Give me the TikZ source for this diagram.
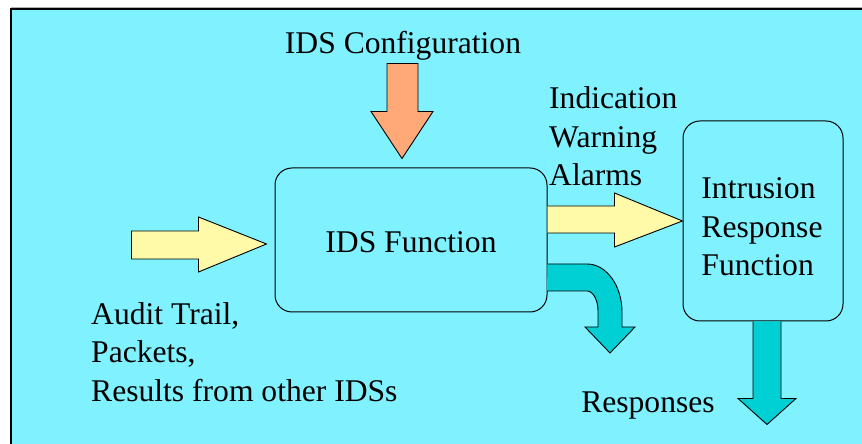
\documentclass[tikz,border=0pt]{standalone}
\usepackage{fontspec}
\setmainfont{Liberation Serif}
\usetikzlibrary{calc}
\definecolor{slidebg}{RGB}{128,242,255}
\definecolor{inyellow}{RGB}{255,250,168}
\definecolor{cfgorange}{RGB}{255,168,120}
\definecolor{outteal}{RGB}{0,208,212}
\tikzset{
  lbl/.style={font=\fontsize{31.6}{38.5}\selectfont, inner sep=0pt, align=left},
  fnbox/.style={draw, line width=1pt, rounded corners=17pt, fill=slidebg},
  blockarrow/.style={draw, line width=0.9pt, line join=miter}
}

\begin{document}
\begin{tikzpicture}[x=1pt, y=1pt]
  \useasboundingbox (0,0) rectangle (862,444);
  \fill[white] (0,0) rectangle (862,444);
  \draw[gray!60, line width=1pt] (11,436.5) -- (864,436.5);
  \fill[slidebg] (11,0) rectangle (862,435);
  \draw[line width=1.3pt] (11,-2) -- (11,435) -- (864,435);

  % the two function boxes
  \node[fnbox, minimum width=272pt, minimum height=144pt] (idsfn) at (411,204) {};
  \node[fnbox, minimum width=160pt, minimum height=200pt] (irf) at (763,223) {};
  \node[lbl] (idstxt) at ($(idsfn.center)+(0,-2)$) {IDS Function};
  \node[lbl] (irftxt) at ($(irf.center)+(-1,-6)$) {Intrusion\\Response\\Function};

  % texts
  \node[lbl] (cfg) at (403,398) {IDS Configuration};
  \node[lbl, anchor=west] (alarms) at (549,307.5) {Indication\\Warning\\Alarms};
  \node[lbl, anchor=west] (audit) at (91,92) {Audit Trail,\\Packets,\\Results from other IDSs};
  \node[lbl] (resp) at (648,38) {Responses};

  % configuration input (down)
  \coordinate (cfgtip) at ($(idsfn.north)+(-9,9)$);
  \draw[blockarrow, fill=cfgorange] ($(cfgtip)+(-15,95)$) -- ($(cfgtip)+(16,95)$)
    -- ($(cfgtip)+(16,47)$) -- ($(cfgtip)+(31,47)$) -- (cfgtip)
    -- ($(cfgtip)+(-31,47)$) -- ($(cfgtip)+(-15,47)$) -- cycle;

  % audit data input (right)
  \coordinate (intip) at ($(idsfn.west)+(-8,-4)$);
  \draw[blockarrow, fill=inyellow] ($(intip)+(-135,13)$) -- ($(intip)+(-68,13)$)
    -- ($(intip)+(-68,27)$) -- (intip) -- ($(intip)+(-68,-28)$)
    -- ($(intip)+(-68,-15)$) -- ($(intip)+(-135,-15)$) -- cycle;

  % alarms to response function
  \coordinate (alm) at ($(idsfn.east |- irf.west)$);
  \draw[blockarrow, fill=inyellow] ($(alm)+(0,15)$) -- ($(alm)+(67,15)$)
    -- ($(alm)+(67,28)$) -- (irf.west) -- ($(alm)+(67,-26)$)
    -- ($(alm)+(67,-12)$) -- ($(alm)+(0,-12)$);

  % bent output arrow
  \coordinate (bnd) at ($(idsfn.east)+(0,-24)$);
  \draw[blockarrow, fill=outteal] (bnd) -- (587,180)
    arc[start angle=90, end angle=0, x radius=35, y radius=48]
    -- (622,117) -- (635,117) -- (610,91) -- (585,117) -- (598,117) -- (598,133)
    arc[start angle=0, end angle=90, x radius=11, y radius=20]
    -- (547,153);

  % responses out of the response function
  \coordinate (rsp) at ($(irf.south)+(4,0)$);
  \draw[blockarrow, fill=outteal] ($(rsp)+(-14,0)$) -- ($(rsp)+(-14,-77)$)
    -- ($(rsp)+(-29,-77)$) -- ($(rsp)+(0,-103)$) -- ($(rsp)+(29,-77)$)
    -- ($(rsp)+(14,-77)$) -- ($(rsp)+(14,0)$);
\end{tikzpicture}
\end{document}
